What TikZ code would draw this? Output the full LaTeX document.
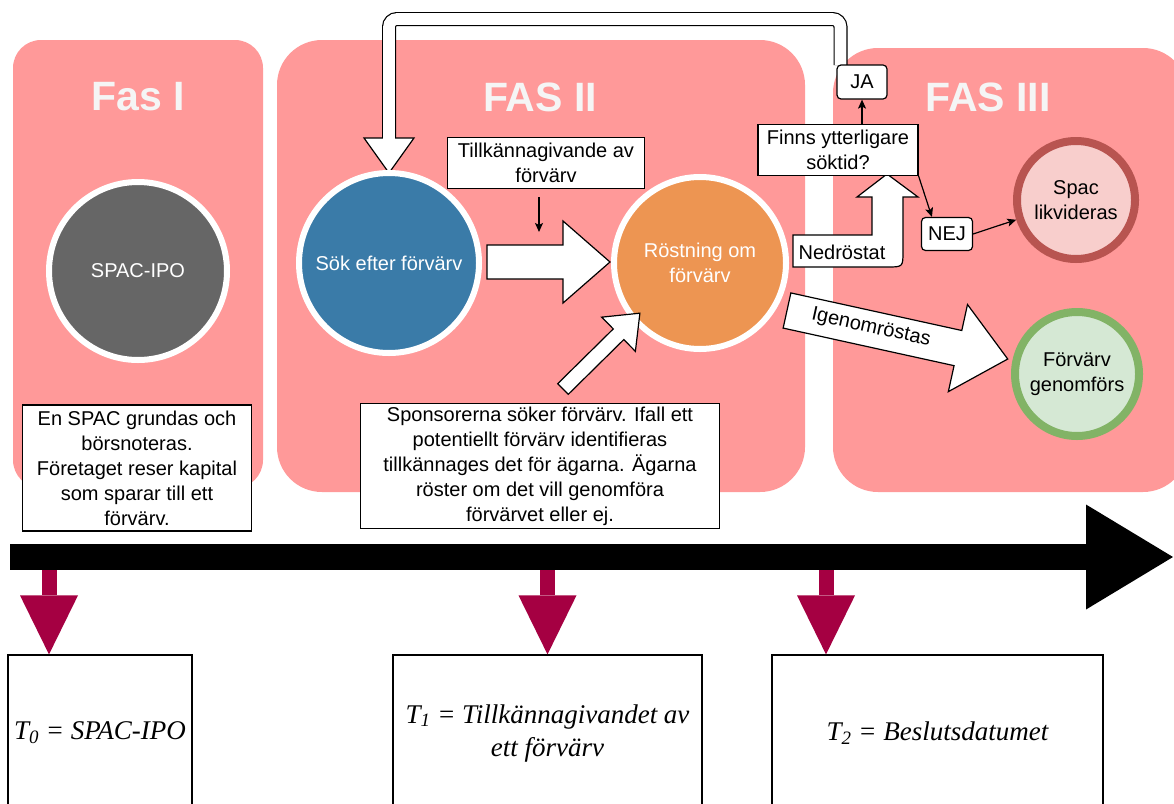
\documentclass[tikz,border=0pt]{standalone}
\usepackage{fontspec}
\setmainfont{Liberation Sans}
\newfontfamily\tidfont{Liberation Serif}
\usetikzlibrary{arrows.meta}
\definecolor{fasrosa}{RGB}{255,153,153}
\definecolor{titelvit}{RGB}{245,245,245}
\definecolor{spacgra}{RGB}{102,102,102}
\definecolor{sokbla}{RGB}{58,123,168}
\definecolor{rostorange}{RGB}{237,149,82}
\definecolor{likvrosa}{RGB}{248,206,204}
\definecolor{likvrod}{RGB}{184,84,80}
\definecolor{gronfyll}{RGB}{213,232,212}
\definecolor{gronkant}{RGB}{130,179,102}
\definecolor{tidrod}{RGB}{165,0,66}
\tikzset{
  fas/.style={fill=fasrosa},
  fastitel/.style={text=titelvit, inner sep=0pt, font=\fontsize{41}{41}\selectfont\bfseries},
  rund/.style={circle, draw=white, line width=6pt, inner sep=0pt, align=center, font=\fontsize{20}{25}\selectfont},
  ruta/.style={draw=black, fill=white, line width=1.2pt, align=center, inner sep=0pt, font=\fontsize{20}{25}\selectfont},
  tidruta/.style={ruta, font=\tidfont\itshape\fontsize{27}{33}\selectfont},
  pil/.style={line width=1.2pt, -{Stealth[length=9pt,width=8pt,inset=2pt]}},
  blockpil/.style={draw=black, fill=white, line width=1.2pt},
  tidpil/.style={draw=tidrod, line width=15pt, -{Triangle[length=59pt,width=58pt,line width=0pt]}}
}
% block arrow: start, angle, length, half shaft, half head, head length
\newcommand{\storpil}[6]{%
  \begin{scope}[shift={#1}, rotate=#2]
    \draw[blockpil] (0,-#4) -- (#3-#6,-#4) -- (#3-#6,-#5) -- (#3,0) -- (#3-#6,#5) -- (#3-#6,#4) -- (0,#4) -- cycle;
  \end{scope}}
\begin{document}
\begin{tikzpicture}[x=1pt,y=-1pt]
  \useasboundingbox (0,0) rectangle (1174,803);
  \fill[white] (0,0) rectangle (1174,803);
  % Phases
  \fill[fas, rounded corners=28pt] (13,40) rectangle (263,488);
  \fill[fas, rounded corners=45pt] (277,40) rectangle (805,492);
  \fill[fas, rounded corners=45pt] (833,48) rectangle (1188,492);
  \node[fastitel] (fas1) at (138,97) {Fas I};
  \node[fastitel] (fas2) at (540,97) {FAS II};
  \node[fastitel] (fas3) at (988,97) {FAS III};
  % Loop back to the search
  \coordinate (slinga) at (840.5,65);
  \coordinate (slingtopp) at (389,19);
  \coordinate (slingslut) at (389,139);
  \draw[line width=14pt, rounded corners=8pt] (slinga) |- (slingtopp) -- (slingslut);
  \draw[blockpil] (364,138) -- (414,138) -- (389,173) -- cycle;
  \draw[white, line width=11.6pt, rounded corners=8pt] (slinga) |- (slingtopp) -- ([yshift=-1.5pt]slingslut);
  % Circles
  \node[rund, fill=spacgra, text=white, minimum size=178pt] (ipo) at (138,271) {SPAC-IPO};
  \node[rund, fill=sokbla, text=white, minimum size=180pt] (sok) at (389,263) {Sök efter förvärv};
  \node[rund, fill=rostorange, text=white, minimum size=172pt] (rost) at (700,263) {Röstning om\\förvärv};
  \node[rund, draw=likvrod, fill=likvrosa, line width=8pt, minimum size=118pt] (likv) at (1076,200) {Spac\\likvideras};
  \node[rund, draw=gronkant, fill=gronfyll, line width=8pt, minimum size=124pt] (genomf) at (1077,374) {Förvärv\\genomförs};
  % Block arrows
  \storpil{(487,262)}{0}{123}{17}{41}{47}
  \storpil{(563,389)}{44.6}{108}{7.5}{24}{30}
  \storpil{(787,310.5)}{-12.4}{226}{18}{44.6}{51}
  \node[rotate=-12.4, font=\fontsize{20}{25}\selectfont] (igenom) at (871,328) {Igenomröstas};
  \draw[blockpil] (793,235) -- (872,235) -- (872,197) -- (857,197) -- (887,174) -- (918,197) -- (903,197) -- (903,251) .. controls (903,267) .. (887,267) -- (793,267) -- cycle;
  \node[font=\fontsize{20}{25}\selectfont] (nedr) at (842,252) {Nedröstat};
  % Boxes
  \node[ruta, minimum width=197pt, minimum height=51pt] (tillk) at (546,163) {Tillkännagivande av\\förvärv};
  \node[ruta, minimum width=160pt, minimum height=51pt] (finns) at (838,150) {Finns ytterligare\\söktid?};
  \node[ruta, rounded corners=4pt, minimum width=50pt, minimum height=34pt] (ja) at (862,82) {JA};
  \node[ruta, rounded corners=4pt, minimum width=51pt, minimum height=33pt] (nej) at (947,234) {NEJ};
  \node[ruta, minimum width=229pt, minimum height=126pt] (ensp) at (137,468) {En SPAC grundas och\\börsnoteras.\\Företaget reser kapital\\som sparar till ett\\förvärv.};
  \node[ruta, minimum width=359pt, minimum height=125pt] (spons) at (540,466) {Sponsorerna söker förvärv. Ifall ett\\potentiellt förvärv identifieras\\tillkännages det för ägarna. Ägarna\\röster om det vill genomföra\\förvärvet eller ej.};
  % Thin arrows
  \coordinate (tillkpil) at (539,232);
  \draw[pil, shorten <=8pt] (tillk.south -| tillkpil) -- (tillkpil);
  \draw[pil] (finns.north -| ja.south) -- (ja.south);
  \draw[pil] (finns.south east) -- ([xshift=11pt]nej.north west);
  \draw[pil] (nej.east) -- (likv);
  % Timeline
  \coordinate (tstart) at (10,557);
  \coordinate (tslut) at (1173,557);
  \draw[line width=26pt, -{Triangle[length=87pt,width=105pt,line width=0pt]}] (tstart) -- (tslut);
  \node[tidruta, minimum width=184pt, minimum height=156pt] (t0) at (100,733) {T\textsubscript{0} = SPAC-IPO};
  \node[tidruta, minimum width=309pt, minimum height=156pt] (t1) at (547.5,733) {T\textsubscript{1} = Tillkännagivandet av\\ett förvärv};
  \node[tidruta, minimum width=331pt, minimum height=156pt] (t2) at (937.5,733) {T\textsubscript{2} = Beslutsdatumet};
  \coordinate (m0) at (49,570);
  \coordinate (m1) at (547.5,570);
  \coordinate (m2) at (826,570);
  \draw[tidpil] (m0) -- (m0 |- t0.north);
  \draw[tidpil] (m1) -- (t1.north);
  \draw[tidpil] (m2) -- (m2 |- t2.north);
\end{tikzpicture}
\end{document}
